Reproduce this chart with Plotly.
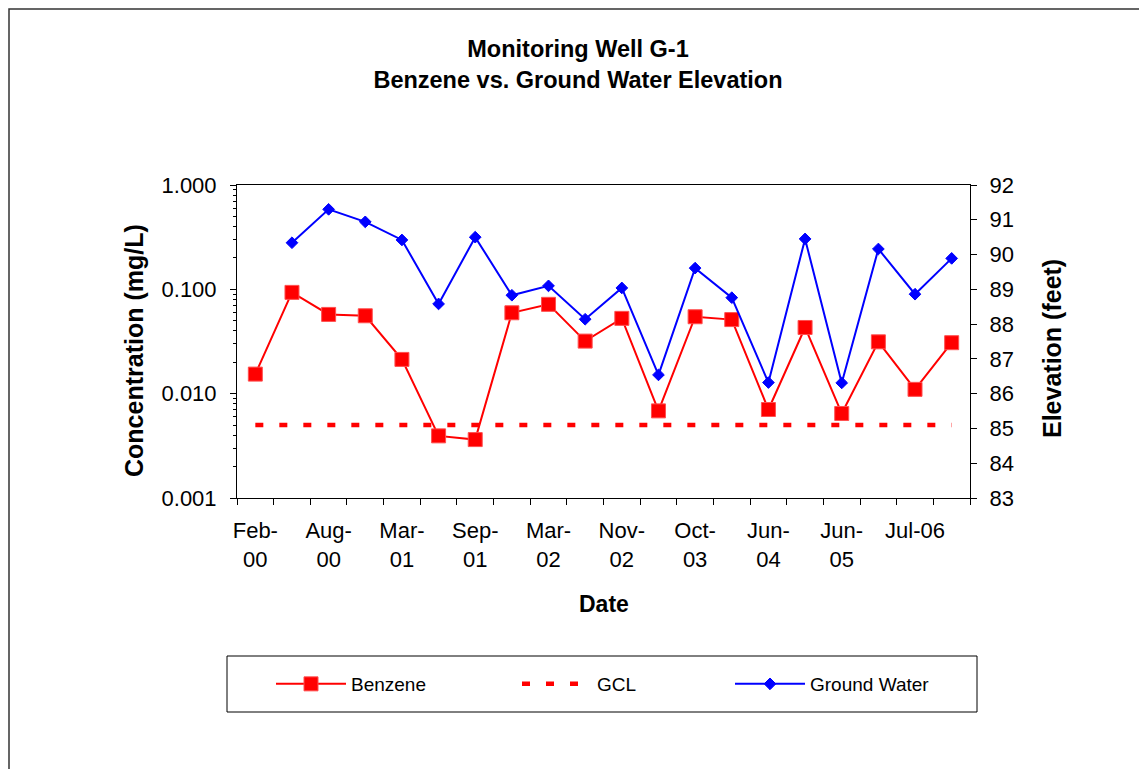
import plotly.graph_objects as go

# ---- data ----
sample_index = list(range(20))
tick_positions = [0, 2, 4, 6, 8, 10, 12, 14, 16, 18]
tick_labels = ["Feb-<br>00", "Aug-<br>00", "Mar-<br>01", "Sep-<br>01", "Mar-<br>02",
               "Nov-<br>02", "Oct-<br>03", "Jun-<br>04", "Jun-<br>05", "Jul-06"]
benzene = [0.0154, 0.0935, 0.0575, 0.0558, 0.0213, 0.00394, 0.00363, 0.0596, 0.0718, 0.0319,
           0.0527, 0.00684, 0.0546, 0.0513, 0.00705, 0.0431, 0.00646, 0.0314, 0.0110, 0.0308]
gcl_value = 0.005
gcl = [gcl_value] * len(sample_index)
ground_water = [None, 90.34, 91.30, 90.94, 90.42, 88.58, 90.50, 88.83, 89.10, 88.14,
                89.04, 86.54, 89.61, 88.76, 86.32, 90.45, 86.31, 90.16, 88.86, 89.89]
conc_ticks = [0.001, 0.01, 0.1, 1.0]
conc_tick_text = ["0.001", "0.010", "0.100", "1.000"]
conc_minor = [m * d for d in (0.001, 0.01, 0.1) for m in range(2, 10)]
elev_range = [83, 92]

FONT = "Liberation Sans, Arial, sans-serif"
OFF = 8  # page body margin
W, H = 1147 - OFF, 769 - OFF
L, T = 237 - OFF, 185 - OFF
pw, ph = 733, 313
R, B = W - L - pw, H - T - ph


def px_x(X):
    return (X - OFF - L) / pw


def px_y(Y):
    return (T + ph - (Y - OFF)) / ph


half = [i - 0.5 for i in range(len(sample_index) + 1)]

fig = go.Figure()
fig.add_trace(go.Scatter(
    x=sample_index, y=benzene, name="Benzene", mode="lines+markers",
    line=dict(color="#ff0000", width=2),
    marker=dict(symbol="square", size=14, color="#ff0000", line=dict(color="#ff5050", width=1)),
    yaxis="y", xaxis="x", legend="legend"))
fig.add_trace(go.Scatter(
    x=sample_index, y=gcl, name="GCL", mode="lines",
    line=dict(color="#ff0000", width=4.5, dash="8px,16px"),
    yaxis="y", xaxis="x", legend="legend2"))
fig.add_trace(go.Scatter(
    x=sample_index, y=ground_water, name="Ground Water", mode="lines+markers",
    line=dict(color="#0000ff", width=2),
    marker=dict(symbol="diamond", size=9, color="#0000ff", line=dict(color="#0000ff", width=1)),
    yaxis="y2", xaxis="x", connectgaps=False, legend="legend3"))

axis_common = dict(showgrid=False, zeroline=False, tickcolor="black", tickwidth=1,
                   tickfont=dict(family=FONT, size=22, color="black"))


def legend_at(x_screen):
    return dict(orientation="h", x=px_x(x_screen), xanchor="left", y=px_y(684), yanchor="middle",
                font=dict(family=FONT, size=19, color="black"),
                bgcolor="rgba(0,0,0,0)", borderwidth=0, itemwidth=70)


fig.update_layout(
    width=W, height=H,
    margin=dict(l=L, r=R, t=T, b=B),
    paper_bgcolor="white", plot_bgcolor="white",
    showlegend=True,
    title=dict(text="<b>Monitoring Well G-1<br>Benzene vs. Ground Water Elevation</b>",
               font=dict(family=FONT, size=23.5, color="black"),
               x=(578 - OFF) / W, xref="container", xanchor="center",
               y=1 - 49 / H, yref="container", yanchor="top"),
    xaxis=dict(range=[-0.5, 19.5], tickmode="array", tickvals=tick_positions, ticktext=tick_labels,
               ticks="", showline=True, linecolor="black", linewidth=1, mirror=True,
               ticklabelstandoff=13,
               minor=dict(tickmode="array", tickvals=half, ticks="outside", ticklen=6,
                          tickcolor="black", tickwidth=1),
               **axis_common),
    xaxis2=dict(range=[-0.5, 19.5], overlaying="x", anchor="y", side="bottom",
                tickmode="array", tickvals=half, ticks="inside", ticklen=6,
                showticklabels=False, showline=False, **axis_common),
    yaxis=dict(type="log", range=[-3, 0], tickmode="array", tickvals=conc_ticks,
               ticktext=conc_tick_text, ticks="outside", ticklen=6, showline=True,
               linecolor="black", linewidth=1, ticklabelstandoff=9,
               minor=dict(tickmode="array", tickvals=conc_minor, ticks="outside", ticklen=3,
                          tickcolor="black", tickwidth=1),
               **axis_common),
    yaxis3=dict(type="log", range=[-3, 0], overlaying="y", anchor="x", side="left",
                tickmode="array", tickvals=conc_ticks, ticks="inside", ticklen=6,
                showticklabels=False, showline=False, **axis_common),
    yaxis2=dict(range=elev_range, overlaying="y", anchor="x", side="right", dtick=1,
                tick0=83, ticks="outside", ticklen=6, showline=True, linecolor="black",
                linewidth=1, ticklabelstandoff=8, **axis_common),
    yaxis4=dict(range=elev_range, overlaying="y", anchor="x", side="right", dtick=1,
                tick0=83, ticks="inside", ticklen=6, showticklabels=False, showline=False,
                **axis_common),
    legend=legend_at(271),
    legend2=legend_at(517),
    legend3=legend_at(730),
    annotations=[
        dict(text="<b>Concentration (mg/L)</b>", x=px_x(134), y=px_y(351), xref="paper", yref="paper",
             showarrow=False, textangle=-90, font=dict(family=FONT, size=25, color="black"),
             xanchor="center", yanchor="middle"),
        dict(text="<b>Elevation (feet)</b>", x=px_x(1052), y=px_y(349), xref="paper", yref="paper",
             showarrow=False, textangle=-90, font=dict(family=FONT, size=25, color="black"),
             xanchor="center", yanchor="middle"),
        dict(text="<b>Date</b>", x=px_x(604), y=px_y(604), xref="paper", yref="paper",
             showarrow=False, font=dict(family=FONT, size=23, color="black"),
             xanchor="center", yanchor="middle"),
    ],
    shapes=[
        dict(type="rect", xref="paper", yref="paper", x0=px_x(227), x1=px_x(977),
             y0=px_y(712), y1=px_y(656), line=dict(color="black", width=1), layer="above"),
        dict(type="rect", xref="paper", yref="paper", x0=px_x(OFF + 1), x1=px_x(1200),
             y0=px_y(800), y1=px_y(OFF + 1), line=dict(color="#333333", width=1.5), layer="above"),
    ],
)

fig.write_html("out.html")
